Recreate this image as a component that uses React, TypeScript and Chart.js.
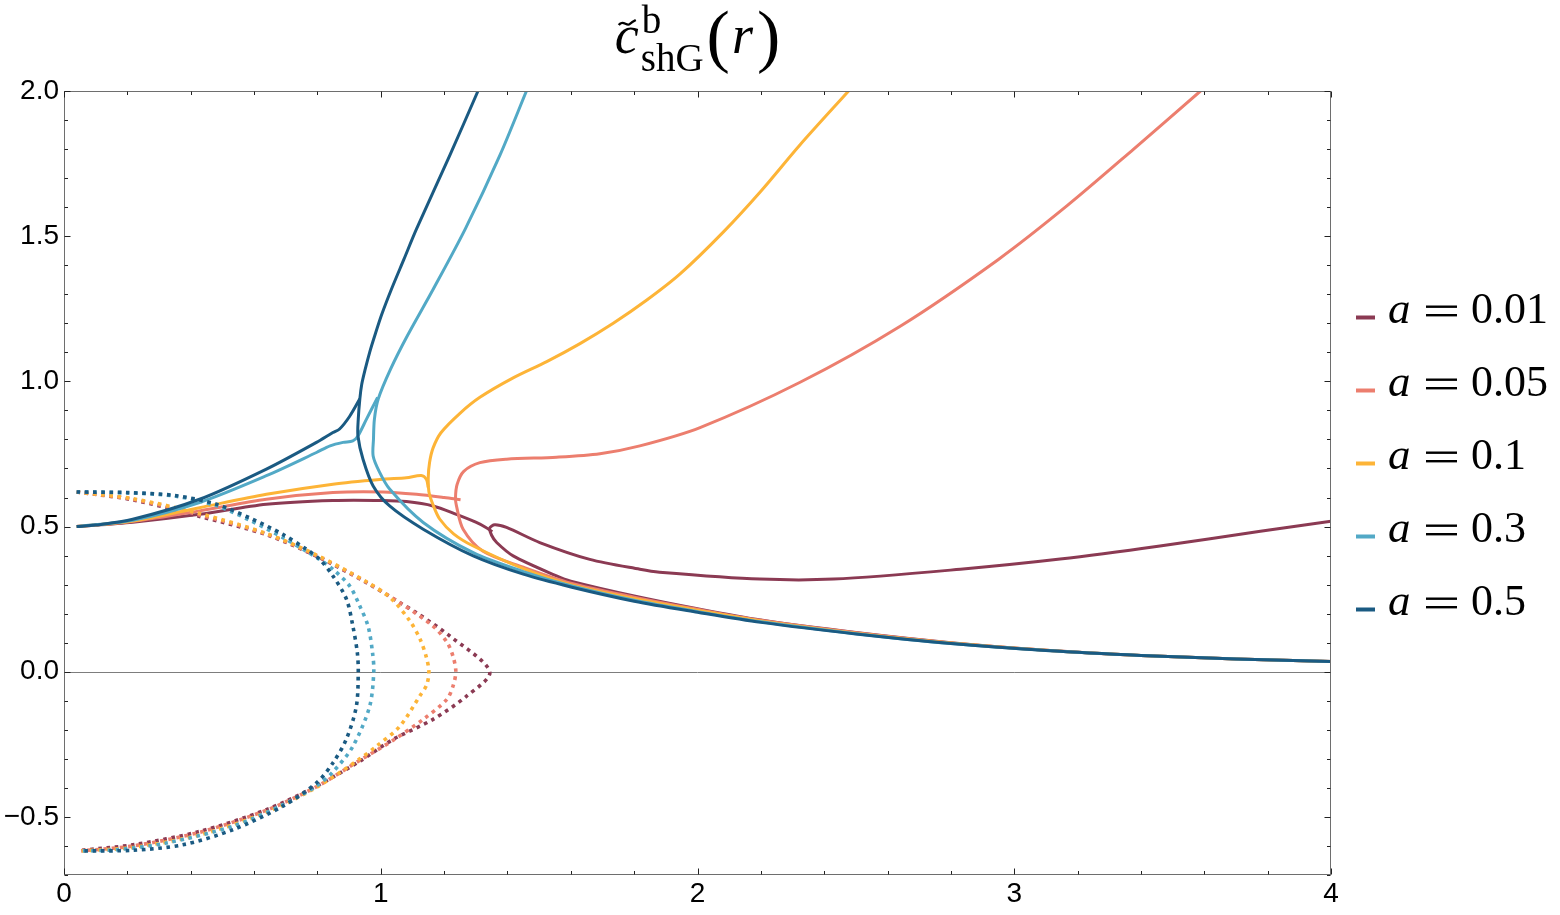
import { useEffect, useRef } from 'react'
import { Chart, registerables } from 'chart.js'

Chart.register(...registerables)

type Pt = [number, number]

// legend labels (values of a) and their colours
const A_LABELS = ['0.01', '0.05', '0.1', '0.3', '0.5']
const A_COLORS = ['#8b3a53', '#ec7e6e', '#fdb437', '#52a9c6', '#1a5a82']

const X_TICKS = [0, 1, 2, 3, 4]
const Y_TICKS = [-0.5, 0, 0.5, 1, 1.5, 2]

// ---- a = 0.01 ----
const A001_LEFT: Pt[] = [
  [0.04, 0.5], [0.217, 0.515], [0.428, 0.542], [0.639, 0.577], [0.849, 0.59], [1.007, 0.59],
  [1.081, 0.586], [1.165, 0.571], [1.239, 0.542], [1.3, 0.515], [1.332, 0.497], [1.352, 0.482],
]
const A001_MAIN: Pt[] = [
  [4.0, 0.518], [3.777, 0.484], [3.46, 0.433], [3.145, 0.388], [2.83, 0.353], [2.43, 0.319],
  [2.197, 0.319], [1.88, 0.343], [1.818, 0.353], [1.66, 0.387], [1.502, 0.445], [1.397, 0.497],
  [1.36, 0.506], [1.344, 0.495], [1.35, 0.47], [1.366, 0.445], [1.418, 0.399], [1.555, 0.33],
  [1.6, 0.312], [1.8, 0.261], [2.0, 0.217], [2.2, 0.178], [2.5, 0.135], [2.8, 0.1], [3.1, 0.074],
  [3.4, 0.056], [3.7, 0.044], [4.0, 0.035],
]
const A001_DOT: Pt[] = [
  [0.04, 0.619], [0.217, 0.592], [0.428, 0.535], [0.639, 0.472], [0.797, 0.398], [0.955, 0.307],
  [1.06, 0.238], [1.113, 0.203], [1.218, 0.123], [1.344, 0.0], [1.271, -0.084], [1.165, -0.164],
  [1.039, -0.233], [0.934, -0.308], [0.797, -0.394], [0.639, -0.475], [0.428, -0.55], [0.217, -0.596],
  [0.054, -0.615],
]

// ---- a = 0.05 ----
const A005_LEFT: Pt[] = [
  [0.04, 0.5], [0.217, 0.518], [0.428, 0.554], [0.639, 0.594], [0.849, 0.617], [1.007, 0.619],
  [1.113, 0.611], [1.2, 0.6], [1.252, 0.592],
]
const A005_MAIN: Pt[] = [
  [3.588, 2.0], [3.377, 1.8], [3.167, 1.605], [2.95, 1.42], [2.64, 1.19], [2.324, 0.997],
  [2.008, 0.841], [1.818, 0.778], [1.692, 0.751], [1.555, 0.739], [1.397, 0.732],
  [1.313, 0.72], [1.262, 0.69], [1.241, 0.645], [1.236, 0.6], [1.239, 0.571], [1.26, 0.491],
  [1.323, 0.415], [1.45, 0.36], [1.6, 0.305], [1.8, 0.257], [2.0, 0.215], [2.2, 0.177], [2.5, 0.134],
  [2.8, 0.099], [3.1, 0.074], [3.4, 0.056], [3.7, 0.044], [4.0, 0.035],
]
const A005_DOT: Pt[] = [
  [0.04, 0.619], [0.217, 0.594], [0.428, 0.54], [0.639, 0.474], [0.797, 0.4], [0.955, 0.308],
  [1.06, 0.238], [1.165, 0.157], [1.21, 0.1], [1.229, 0.05], [1.237, 0.0], [1.228, -0.05],
  [1.208, -0.096], [1.134, -0.164], [1.039, -0.236], [0.934, -0.305], [0.797, -0.396],
  [0.639, -0.477], [0.428, -0.553], [0.217, -0.6], [0.054, -0.617],
]

// ---- a = 0.1 ----
const A01_LEFT: Pt[] = [
  [0.04, 0.5], [0.217, 0.519], [0.428, 0.565], [0.639, 0.611], [0.849, 0.646], [1.007, 0.663],
  [1.081, 0.668], [1.128, 0.676], [1.144, 0.663], [1.15, 0.635],
]
const A01_MAIN: Pt[] = [
  [2.477, 2.0], [2.324, 1.815], [2.2, 1.655], [2.082, 1.515], [1.945, 1.37], [1.84, 1.28],
  [1.734, 1.2], [1.629, 1.13], [1.524, 1.068], [1.418, 1.012], [1.313, 0.945], [1.25, 0.89],
  [1.19, 0.823], [1.165, 0.77], [1.154, 0.72], [1.15, 0.67], [1.152, 0.62], [1.165, 0.575],
  [1.186, 0.526], [1.23, 0.475], [1.292, 0.433], [1.45, 0.355], [1.6, 0.3], [1.8, 0.252],
  [2.0, 0.212], [2.2, 0.175], [2.5, 0.133], [2.8, 0.099], [3.1, 0.074], [3.4, 0.056], [3.7, 0.044],
  [4.0, 0.035],
]
const A01_DOT: Pt[] = [
  [0.04, 0.619], [0.217, 0.596], [0.428, 0.545], [0.639, 0.476], [0.797, 0.402], [0.955, 0.31],
  [1.03, 0.255], [1.092, 0.175], [1.125, 0.11], [1.144, 0.05], [1.152, 0.0], [1.145, -0.045],
  [1.123, -0.084], [1.06, -0.188], [0.986, -0.257], [0.934, -0.3], [0.797, -0.398], [0.639, -0.484],
  [0.428, -0.562], [0.217, -0.605], [0.054, -0.617],
]

// ---- a = 0.3 ----
const A03_LEFT: Pt[] = [
  [0.04, 0.5], [0.217, 0.522], [0.428, 0.583], [0.639, 0.675], [0.797, 0.755], [0.84, 0.778],
  [0.881, 0.79], [0.912, 0.795], [0.928, 0.812], [0.955, 0.87], [0.99, 0.945],
]
const A03_MAIN: Pt[] = [
  [1.46, 2.0], [1.376, 1.778], [1.267, 1.525], [1.166, 1.318], [1.084, 1.157], [1.031, 1.042],
  [0.992, 0.939], [0.98, 0.87], [0.977, 0.8], [0.976, 0.743], [0.995, 0.69], [1.028, 0.629],
  [1.134, 0.514], [1.292, 0.41], [1.45, 0.345], [1.6, 0.296], [1.8, 0.246], [2.0, 0.207],
  [2.2, 0.172], [2.5, 0.131], [2.8, 0.097], [3.1, 0.073], [3.4, 0.056], [3.7, 0.044], [4.0, 0.035],
]
const A03_DOT: Pt[] = [
  [0.04, 0.619], [0.2, 0.616], [0.35, 0.605], [0.481, 0.572], [0.586, 0.522], [0.691, 0.462],
  [0.765, 0.415], [0.807, 0.387], [0.849, 0.353], [0.902, 0.295], [0.934, 0.226], [0.96, 0.157],
  [0.974, 0.066], [0.978, 0.0], [0.965, -0.119], [0.912, -0.257], [0.849, -0.345], [0.797, -0.394],
  [0.691, -0.458], [0.533, -0.532], [0.323, -0.59], [0.165, -0.613], [0.054, -0.617],
]

// ---- a = 0.5 ----
const A05_LEFT: Pt[] = [
  [0.04, 0.5], [0.1, 0.505], [0.217, 0.525], [0.428, 0.594], [0.639, 0.698], [0.797, 0.79],
  [0.849, 0.824], [0.87, 0.836], [0.902, 0.88], [0.934, 0.94],
]
const A05_MAIN: Pt[] = [
  [1.307, 2.0], [1.218, 1.778], [1.113, 1.525], [1.073, 1.42], [1.034, 1.318], [1.003, 1.23],
  [0.981, 1.157], [0.965, 1.1], [0.951, 1.042], [0.94, 0.99], [0.934, 0.94], [0.929, 0.87],
  [0.928, 0.812], [0.944, 0.732], [0.976, 0.64], [1.028, 0.571], [1.134, 0.491], [1.292, 0.399],
  [1.45, 0.336], [1.6, 0.292], [1.8, 0.243], [2.0, 0.205], [2.2, 0.17], [2.5, 0.13], [2.8, 0.097],
  [3.1, 0.073], [3.4, 0.056], [3.7, 0.044], [4.0, 0.035],
]
const A05_DOT: Pt[] = [
  [0.04, 0.619], [0.2, 0.617], [0.35, 0.607], [0.481, 0.577], [0.586, 0.53], [0.691, 0.473],
  [0.765, 0.422], [0.807, 0.387], [0.849, 0.33], [0.892, 0.249], [0.912, 0.157], [0.926, 0.066],
  [0.929, 0.0], [0.923, -0.119], [0.891, -0.233], [0.849, -0.314], [0.797, -0.383], [0.691, -0.463],
  [0.533, -0.544], [0.375, -0.596], [0.217, -0.615], [0.054, -0.617],
]

const LEFT_BRANCHES = [A001_LEFT, A005_LEFT, A01_LEFT, A03_LEFT, A05_LEFT]
const MAIN_BRANCHES = [A001_MAIN, A005_MAIN, A01_MAIN, A03_MAIN, A05_MAIN]
const DOT_BRANCHES = [A001_DOT, A005_DOT, A01_DOT, A03_DOT, A05_DOT]

const SERIF = '"Liberation Serif", "DejaVu Serif", serif'
const SANS = '"Liberation Sans", Arial, sans-serif'
const FRAME = '#6e6e6e'

const toXY = (pts: Pt[]) => pts.map(([x, y]) => ({ x, y }))

// frame with inward ticks, zero line, title and legend (Mathematica look)
const decorPlugin = {
  id: 'decor',
  beforeDatasetsDraw(chart: any) {
    const { ctx, chartArea: a, scales } = chart
    const y0 = Math.round(scales.y.getPixelForValue(0)) + 0.5
    ctx.save()
    ctx.strokeStyle = '#7d7d7d'
    ctx.lineWidth = 1
    ctx.beginPath()
    ctx.moveTo(a.left, y0)
    ctx.lineTo(a.right, y0)
    ctx.stroke()
    ctx.restore()
  },
  afterDraw(chart: any) {
    const { ctx, chartArea: a, scales } = chart
    const L = Math.round(a.left) + 0.5
    const R = Math.round(a.right) - 0.5
    const T = Math.round(a.top) + 0.5
    const B = Math.round(a.bottom) - 0.5
    ctx.save()
    ctx.strokeStyle = FRAME
    ctx.lineWidth = 1
    ctx.strokeRect(L, T, R - L, B - T)
    ctx.strokeStyle = '#222'
    ctx.beginPath()
    for (let i = 0; i <= 20; i++) {
      const v = i * 0.2
      const len = i % 5 === 0 ? 6 : 3.5
      const px = Math.round(scales.x.getPixelForValue(v)) + 0.5
      ctx.moveTo(px, B); ctx.lineTo(px, B - len)
      ctx.moveTo(px, T); ctx.lineTo(px, T + len)
    }
    for (let i = -7; i <= 20; i++) {
      const v = i * 0.1
      const len = i % 5 === 0 ? 6 : 3.5
      const py = Math.round(scales.y.getPixelForValue(v)) + 0.5
      ctx.moveTo(L, py); ctx.lineTo(L + len, py)
      ctx.moveTo(R, py); ctx.lineTo(R - len, py)
    }
    ctx.stroke()

    // title  c~^b_shG(r)
    ctx.fillStyle = '#000'
    ctx.textBaseline = 'alphabetic'
    ctx.textAlign = 'left'
    const bigI = `italic 54px ${SERIF}`
    const supF = `39px ${SERIF}`
    const parF = `70px ${SERIF}`
    ctx.font = bigI
    const cW = ctx.measureText('c').width
    const rW = ctx.measureText('r').width
    ctx.font = supF
    const bW = ctx.measureText('b').width
    const sW = ctx.measureText('shG').width
    ctx.font = parF
    const pW = ctx.measureText('(').width
    const total = cW + 2 + Math.max(bW, sW) + 3 + pW + 2 + rW + 4 + pW
    let x = (a.left + a.right) / 2 - total / 2
    const base = 53
    ctx.font = bigI
    ctx.fillText('c', x, base)
    // tilde
    ctx.lineWidth = 2.4
    ctx.strokeStyle = '#000'
    ctx.beginPath()
    const tx = x + 4, ty = 23
    ctx.moveTo(tx, ty + 2)
    ctx.bezierCurveTo(tx + 4, ty - 4, tx + 8, ty + 4, tx + 11, ty + 1)
    ctx.bezierCurveTo(tx + 13, ty - 1, tx + 15, ty - 2, tx + 17, ty - 3)
    ctx.stroke()
    x += cW + 2
    ctx.font = supF
    ctx.fillText('b', x + 1, 33)
    ctx.fillText('shG', x, 71)
    x += Math.max(bW, sW) + 3
    ctx.font = parF
    ctx.fillText('(', x, 59)
    x += pW + 2
    ctx.font = bigI
    ctx.fillText('r', x, base)
    x += rW + 4
    ctx.font = parF
    ctx.fillText(')', x, 59)

    // legend
    A_LABELS.forEach((lab, i) => {
      const bl = 323 + i * 73
      ctx.strokeStyle = A_COLORS[i]
      ctx.lineWidth = 4
      ctx.lineCap = 'butt'
      ctx.beginPath()
      ctx.moveTo(1356, bl - 5.5)
      ctx.lineTo(1375, bl - 5.5)
      ctx.stroke()
      ctx.fillStyle = '#000'
      ctx.font = `italic 45px ${SERIF}`
      ctx.fillText('a', 1388, bl)
      ctx.fillRect(1426, bl - 17.5, 31, 2.4)
      ctx.fillRect(1426, bl - 9, 31, 2.4)
      ctx.font = `44px ${SERIF}`
      ctx.fillText(lab, 1471, bl)
    })
    ctx.restore()
  },
}

export default function App() {
  const canvasRef = useRef<HTMLCanvasElement>(null)
  const chartRef = useRef<Chart | null>(null)

  useEffect(() => {
    if (!canvasRef.current) return
    const ctx = canvasRef.current.getContext('2d')
    if (!ctx) return

    const datasets: any[] = []
    A_LABELS.forEach((lab, i) => {
      const common = {
        showLine: true,
        pointRadius: 0,
        borderColor: A_COLORS[i],
        backgroundColor: A_COLORS[i],
        fill: false,
        tension: 0.3,
        order: A_LABELS.length - 1 - i,
      }
      datasets.push({ ...common, label: `a = ${lab}`, data: toXY(MAIN_BRANCHES[i]), borderWidth: 3 })
      datasets.push({ ...common, label: `a = ${lab} (left)`, data: toXY(LEFT_BRANCHES[i]), borderWidth: 3 })
      datasets.push({
        ...common,
        label: `a = ${lab} (dotted)`,
        data: toXY(DOT_BRANCHES[i]),
        borderWidth: 3.6,
        borderDash: [3.6, 4.6],
        borderCapStyle: 'butt',
      })
    })

    chartRef.current = new Chart(ctx, {
      type: 'scatter',
      data: { datasets },
      options: {
        animation: false,
        responsive: true,
        maintainAspectRatio: false,
        layout: { padding: { top: 91, right: 229, left: 0, bottom: 0 } },
        plugins: {
          legend: { display: false },
          tooltip: { enabled: false },
          title: { display: false },
        },
        scales: {
          x: {
            type: 'linear',
            min: 0,
            max: 4,
            grid: { display: false, drawTicks: false },
            border: { display: false },
            afterBuildTicks: (s: any) => { s.ticks = X_TICKS.map(v => ({ value: v })) },
            afterFit: (s: any) => { s.height = 40; s.paddingLeft = 0; s.paddingRight = 0 },
            ticks: {
              color: '#000',
              padding: 2,
              maxRotation: 0,
              font: { family: SANS, size: 28 },
              callback: (v: any) => String(v),
            },
          },
          y: {
            type: 'linear',
            min: -0.7,
            max: 2.0,
            grid: { display: false, drawTicks: false },
            border: { display: false },
            afterBuildTicks: (s: any) => { s.ticks = Y_TICKS.map(v => ({ value: v })) },
            afterFit: (s: any) => { s.width = 64; s.paddingTop = 0; s.paddingBottom = 0 },
            ticks: {
              color: '#000',
              padding: 5,
              font: { family: SANS, size: 28 },
              callback: (v: any) => (v < 0 ? '\u2212' + Math.abs(v).toFixed(1) : Number(v).toFixed(1)),
            },
          },
        },
      },
      plugins: [decorPlugin],
    } as any)

    return () => {
      chartRef.current?.destroy()
      chartRef.current = null
    }
  }, [])

  return (
    <div style={{ position: 'fixed', left: 0, top: 0, width: 1560, height: 915, background: '#fff' }}>
      <canvas ref={canvasRef} role="img" aria-label="c~b shG(r) curves for several a" />
    </div>
  )
}
